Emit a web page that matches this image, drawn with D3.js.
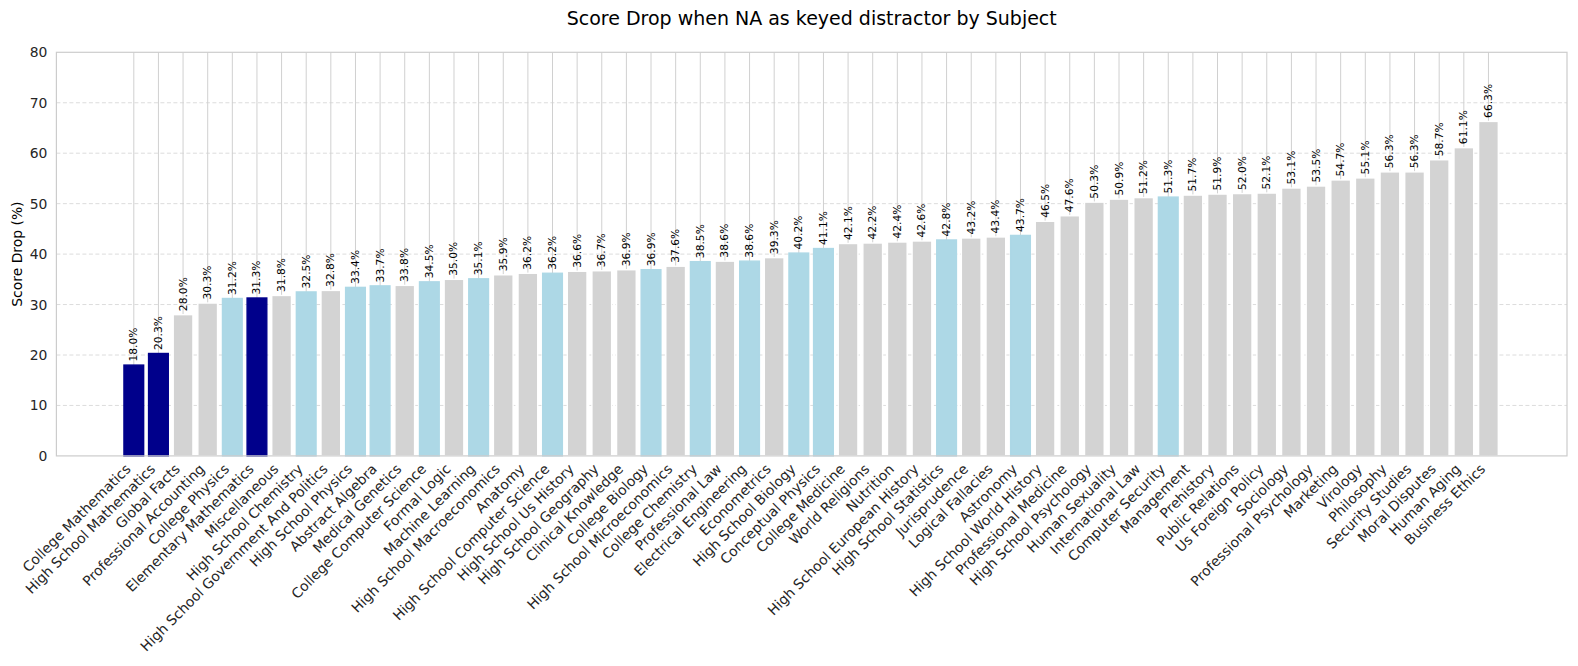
<!DOCTYPE html>
<html><head><meta charset="utf-8">
<script src="https://cdn.jsdelivr.net/npm/d3@7"></script>
<style>body{margin:0;background:#fff;} text{font-family:"DejaVu Sans",sans-serif;fill:#262626;}</style>
</head><body><svg id="c" width="1578" height="666"></svg>
<script>
const categories = ["College Mathematics","High School Mathematics","Global Facts","Professional Accounting","College Physics","Elementary Mathematics","Miscellaneous","High School Chemistry","High School Government And Politics","High School Physics","Abstract Algebra","Medical Genetics","College Computer Science","Formal Logic","Machine Learning","High School Macroeconomics","Anatomy","High School Computer Science","High School Us History","High School Geography","Clinical Knowledge","College Biology","High School Microeconomics","College Chemistry","Professional Law","Electrical Engineering","Econometrics","High School Biology","Conceptual Physics","College Medicine","World Religions","Nutrition","High School European History","High School Statistics","Jurisprudence","Logical Fallacies","Astronomy","High School World History","Professional Medicine","High School Psychology","Human Sexuality","International Law","Computer Security","Management","Prehistory","Public Relations","Us Foreign Policy","Sociology","Professional Psychology","Marketing","Virology","Philosophy","Security Studies","Moral Disputes","Human Aging","Business Ethics"];
const values = [18.0,20.3,28.0,30.3,31.2,31.3,31.8,32.5,32.8,33.4,33.7,33.8,34.5,35.0,35.1,35.9,36.2,36.2,36.6,36.7,36.9,36.9,37.6,38.5,38.6,38.6,39.3,40.2,41.1,42.1,42.2,42.4,42.6,42.8,43.2,43.4,43.7,46.5,47.6,50.3,50.9,51.2,51.3,51.7,51.9,52.0,52.1,53.1,53.5,54.7,55.1,56.3,56.3,58.7,61.1,66.3];
// group: 2 = math (dark blue), 1 = STEM (light blue), 0 = other
const groups = [2,2,0,0,1,2,0,1,0,1,1,0,1,0,1,0,0,1,0,0,0,1,0,1,0,1,0,1,1,0,0,0,0,1,0,0,1,0,0,0,0,0,1,0,0,0,0,0,0,0,0,0,0,0,0,0];
const yTicks = [0,10,20,30,40,50,60,70,80];
const title = "Score Drop when NA as keyed distractor by Subject";
const yLabel = "Score Drop (%)";

const colors = ["#d3d3d3","#add8e6","#00008b"];
const svg = d3.select("#c");
const L=56.4, R=1567, T=52.3, B=455.9;
const step = 24.63, first = 133.8;
const x = d3.scaleBand().domain(categories).range([first-step/2, first-step/2+step*categories.length]).paddingInner(0.2).paddingOuter(0.1);
const y = d3.scaleLinear().domain([0,80]).range([B,T]);

// horizontal grid
svg.append("g").selectAll("line").data(yTicks.filter(d=>d>0&&d<80)).join("line")
  .attr("x1",L).attr("x2",R).attr("y1",d=>y(d)).attr("y2",d=>y(d))
  .attr("stroke","#dcdcdc").attr("stroke-width",1).attr("stroke-dasharray","4,2.5");
// vertical grid
svg.append("g").selectAll("line").data(categories).join("line")
  .attr("x1",d=>x(d)+x.bandwidth()/2).attr("x2",d=>x(d)+x.bandwidth()/2).attr("y1",T).attr("y2",B)
  .attr("stroke","#d0d0d0").attr("stroke-width",1);

// bars
svg.append("g").selectAll("rect").data(categories).join("rect")
  .attr("x",d=>x(d)).attr("width",x.bandwidth())
  .attr("y",(d,i)=>y(values[i])).attr("height",(d,i)=>B-y(values[i]))
  .attr("fill",(d,i)=>colors[groups[i]])
  .attr("stroke",(d,i)=>groups[i]===0?"#ffffff":colors[groups[i]]).attr("stroke-width",1.4);

// value labels
svg.append("g").selectAll("text").data(categories).join("text")
  .attr("transform",(d,i)=>`translate(${x(d)+x.bandwidth()/2},${y(values[i])-3.5}) rotate(-90)`)
  .attr("text-anchor","start").attr("dominant-baseline","central")
  .style("font-size","10.7px").style("fill","#000")
  .text((d,i)=>values[i].toFixed(1)+"%");

// frame
svg.append("rect").attr("x",L).attr("y",T).attr("width",R-L).attr("height",B-T)
  .attr("fill","none").attr("stroke","#cccccc").attr("stroke-width",1.2);

// y ticks
const yAxis = d3.axisLeft(y).tickValues(yTicks).tickSize(0).tickPadding(9);
const gy = svg.append("g").attr("transform",`translate(${L},0)`).call(yAxis);
gy.select(".domain").remove();
gy.selectAll("text").style("font-size","13.9px").style("fill","#262626").attr("font-family","DejaVu Sans");

// x labels
const xAxis = d3.axisBottom(x).tickSize(0).tickFormat(d=>d);
const gx = svg.append("g").attr("transform",`translate(0,${B})`).call(xAxis);
gx.select(".domain").remove();
gx.selectAll(".tick text").attr("y",0).attr("dy",0)
  .attr("transform","translate(-2.3,14) rotate(-45)")
  .attr("text-anchor","end").style("font-size","13.9px").style("fill","#262626").attr("font-family","DejaVu Sans");

// title
svg.append("text").attr("x",(L+R)/2).attr("y",25).attr("text-anchor","middle")
  .style("font-size","19px").style("fill","#000").text(title);
// y label
svg.append("text").attr("transform",`translate(17,${(T+B)/2}) rotate(-90)`).attr("text-anchor","middle")
  .attr("dominant-baseline","central").style("font-size","13.9px").style("fill","#000").text(yLabel);
</script></body></html>
